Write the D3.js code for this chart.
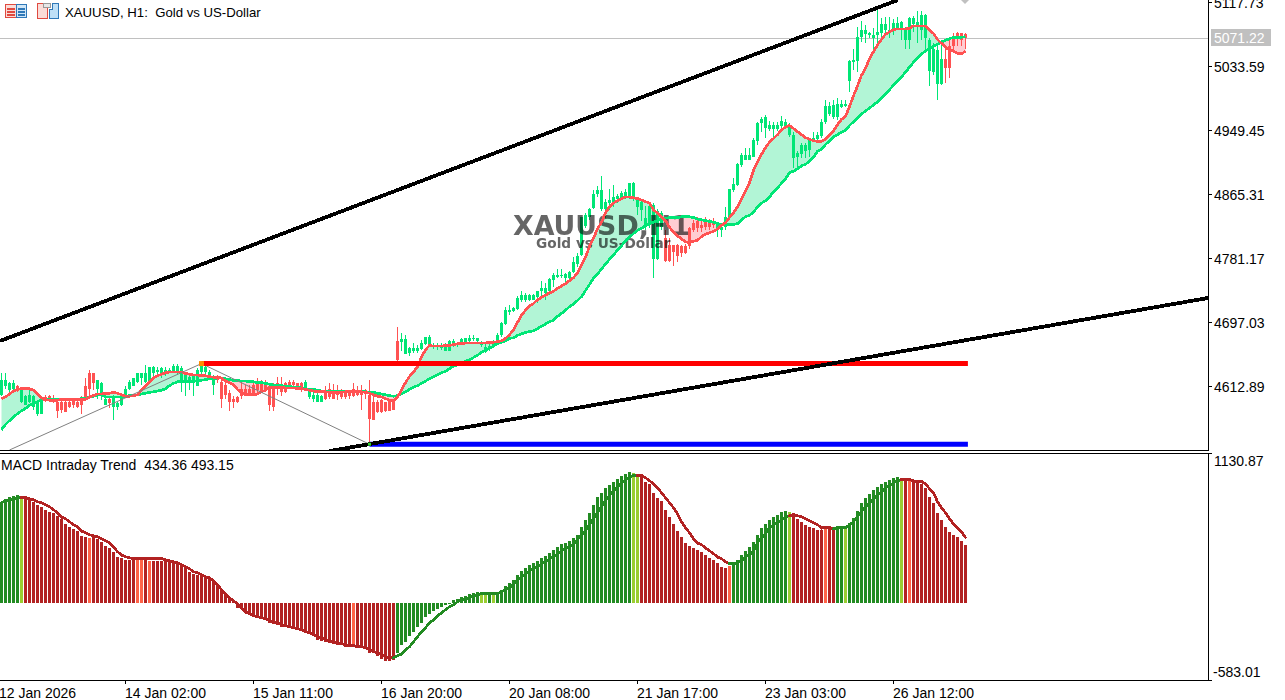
<!DOCTYPE html>
<html>
<head>
<meta charset="utf-8">
<title>XAUUSD H1</title>
<script src="https://cdn.jsdelivr.net/npm/d3@7/dist/d3.min.js"></script>
<style>
html,body{margin:0;padding:0;background:#fff;overflow:hidden}
svg{display:block}
text{font-family:"Liberation Sans",Arial,sans-serif;font-size:14px;fill:#000}
</style>
</head>
<body>
<svg id="c" width="1285" height="700"></svg>
<script>
// ---------- price panel data ----------
const symbolTitle = "XAUUSD, H1:  Gold vs US-Dollar";
const watermarkMain = "XAUUSD,H1";
const watermarkSub = "Gold vs US-Dollar";
const lastPrice = 5071.22;
const priceTicks = [5117.73,5033.59,4949.45,4865.31,4781.17,4697.03,4612.89];
const timeLabels = ["12 Jan 2026","14 Jan 02:00","15 Jan 11:00","16 Jan 20:00","20 Jan 08:00","21 Jan 17:00","23 Jan 03:00","26 Jan 12:00"];
const timeLabelBars = [-1,31,63,95,127,159,191,223];

const open = [
4602,4614,4608,4610,4613,4593,4589,4593,4586,4577,
4577,4599,4600,4596,4593,4592,4593,4593,4594,4593,
4597,4613,4631,4630,4610,4602,4589,4597,4586,4586,
4589,4602,4609,4614,4619,4624,4619,4619,4631,4632,
4629,4629,4632,4632,4632,4617,4617,4618,4617,4614,
4632,4632,4624,4615,4627,4619,4615,4604,4597,4599,
4610,4610,4610,4615,4617,4617,4617,4613,4613,4617,
4615,4617,4619,4619,4617,4617,4610,4599,4596,4593,
4593,4607,4610,4608,4608,4608,4607,4606,4610,4608,
4608,4608,4602,4593,4593,4595,4592,4595,4596,4673,
4672,4656,4657,4659,4659,4662,4669,4667,4665,4665,
4664,4660,4660,4667,4667,4670,4671,4673,4675,4673,
4667,4659,4662,4667,4672,4681,4695,4711,4712,4715,
4727,4726,4727,4727,4730,4738,4736,4738,4753,4757,
4759,4755,4755,4764,4774,4786,4824,4836,4847,4866,
4846,4846,4854,4856,4860,4860,4862,4862,4859,4849,
4845,4822,4825,4780,4781,4823,4808,4799,4799,4799,
4797,4798,4821,4828,4830,4825,4830,4830,4831,4821,
4819,4822,4836,4871,4878,4904,4911,4911,4915,4935,
4959,4953,4952,4952,4951,4955,4955,4944,4913,4914,
4919,4922,4924,4937,4938,4942,4960,4971,4967,4967,
4980,4981,5014,5040,5041,5072,5076,5075,5071,5075,
5078,5082,5079,5082,5082,5084,5068,5068,5089,5086,
5082,5071,5028,5027,5011,5011,5044,5060,5074,5077,
5077,5076];
const high = [
4630,4630,4619,4621,4615,4612,4602,4608,4602,4595,
4597,4602,4602,4602,4597,4595,4595,4596,4596,4597,
4600,4624,4635,4631,4621,4619,4602,4600,4602,4593,
4604,4613,4621,4624,4631,4631,4641,4639,4640,4639,
4638,4639,4637,4642,4642,4640,4630,4628,4628,4637,
4643,4641,4635,4628,4628,4624,4622,4608,4600,4600,
4619,4615,4615,4619,4624,4621,4621,4617,4617,4626,
4626,4619,4621,4622,4618,4619,4621,4610,4608,4608,
4602,4613,4617,4616,4615,4609,4608,4608,4617,4613,
4615,4610,4621,4602,4595,4597,4593,4597,4597,4691,
4683,4681,4665,4670,4667,4674,4678,4680,4670,4670,
4670,4670,4674,4675,4672,4676,4677,4680,4681,4677,
4673,4672,4670,4674,4683,4698,4718,4720,4718,4732,
4738,4736,4735,4734,4739,4751,4749,4755,4762,4767,
4767,4762,4765,4783,4788,4836,4841,4848,4871,4876,
4890,4859,4872,4878,4866,4870,4872,4881,4882,4860,
4859,4850,4854,4854,4846,4843,4819,4808,4799,4800,
4799,4800,4823,4832,4836,4832,4836,4833,4834,4825,
4827,4849,4873,4887,4907,4920,4926,4926,4940,4960,
4967,4970,4962,4960,4960,4968,4964,4959,4947,4923,
4933,4933,4938,4948,4948,4965,4989,4987,4989,4992,
4990,4990,5042,5057,5086,5094,5088,5079,5084,5113,
5097,5099,5099,5096,5099,5094,5086,5098,5100,5106,
5107,5103,5071,5064,5062,5064,5057,5072,5077,5079,
5078,5078];
const low = [
4600,4610,4606,4606,4606,4591,4589,4591,4582,4574,
4577,4593,4593,4591,4572,4578,4580,4584,4584,4584,
4577,4596,4600,4608,4597,4595,4589,4584,4569,4582,
4587,4600,4608,4613,4618,4615,4618,4619,4627,4628,
4624,4627,4630,4630,4628,4606,4600,4608,4600,4613,
4628,4626,4621,4602,4617,4584,4597,4581,4584,4591,
4596,4600,4602,4600,4602,4605,4606,4581,4581,4602,
4600,4604,4613,4610,4609,4606,4608,4596,4593,4592,
4592,4595,4596,4596,4595,4596,4597,4597,4599,4600,
4582,4597,4538,4569,4578,4578,4580,4581,4582,4647,
4659,4656,4653,4657,4657,4661,4667,4666,4662,4661,
4661,4659,4659,4665,4665,4667,4669,4670,4673,4670,
4665,4657,4660,4663,4670,4678,4694,4707,4711,4713,
4724,4724,4725,4726,4722,4729,4727,4733,4744,4755,
4755,4749,4753,4762,4770,4784,4821,4832,4846,4862,
4844,4834,4845,4849,4854,4858,4859,4860,4857,4838,
4830,4819,4821,4756,4779,4819,4776,4776,4771,4776,
4783,4787,4794,4816,4816,4816,4819,4819,4821,4810,
4809,4819,4834,4869,4876,4902,4910,4910,4914,4930,
4948,4939,4949,4939,4949,4950,4954,4941,4900,4902,
4913,4913,4915,4936,4936,4940,4958,4968,4964,4963,
4979,4980,5000,5029,5027,5066,5064,5071,5051,5060,
5073,5077,5071,5075,5082,5069,5056,5057,5079,5065,
5068,5055,5008,5022,4990,5009,5012,5018,5053,5060,
5061,5056];
const close = [
4621,4621,4617,4618,4608,4610,4600,4602,4600,4593,
4595,4595,4594,4592,4581,4582,4580,4586,4589,4586,
4588,4597,4610,4617,4621,4617,4597,4591,4600,4591,
4600,4610,4619,4624,4630,4630,4631,4638,4638,4635,
4637,4634,4635,4640,4640,4637,4628,4626,4627,4635,
4640,4639,4632,4625,4621,4597,4602,4592,4592,4593,
4600,4600,4604,4602,4608,4606,4608,4589,4586,4610,
4606,4606,4615,4615,4613,4608,4619,4609,4602,4602,
4600,4596,4599,4597,4602,4599,4599,4600,4600,4602,
4602,4605,4570,4569,4580,4580,4581,4581,4582,4648,
4675,4675,4663,4664,4664,4670,4678,4678,4667,4667,
4667,4666,4673,4673,4670,4675,4676,4676,4677,4676,
4672,4665,4666,4673,4681,4696,4714,4714,4716,4729,
4733,4733,4733,4733,4738,4742,4742,4754,4759,4759,
4760,4761,4764,4776,4785,4836,4838,4846,4866,4871,
4871,4856,4858,4862,4863,4867,4869,4880,4881,4860,
4856,4834,4850,4851,4843,4841,4778,4778,4790,4784,
4789,4789,4797,4819,4821,4821,4823,4822,4825,4825,
4823,4836,4873,4879,4906,4917,4917,4917,4937,4959,
4964,4967,4957,4957,4957,4962,4961,4955,4944,4920,
4931,4931,4937,4939,4943,4961,4982,4982,4983,4984,
4984,4984,5041,5042,5072,5082,5082,5078,5075,5079,
5090,5090,5082,5091,5091,5092,5084,5097,5097,5092,
5101,5101,5069,5056,5055,5044,5032,5032,5060,5071,
5068,5071.22];
const maFast = [
4597,4599,4603,4607,4609,4610,4610,4610,4608,4603,
4598,4595,4595,4594,4595,4596,4596,4596,4596,4596,
4596,4596,4599,4601,4603,4603,4604,4604,4605,4604,
4602,4600,4600,4601,4602,4608,4613,4619,4624,4627,
4629,4631,4632,4632,4632,4632,4630,4629,4628,4628,
4627,4627,4626,4625,4625,4624,4620,4618,4615,4609,
4605,4603,4602,4602,4603,4606,4608,4612,4612,4612,
4612,4611,4611,4611,4610,4610,4609,4608,4607,4606,
4606,4606,4605,4605,4605,4605,4606,4606,4606,4606,
4606,4605,4604,4602,4600,4599,4597,4595,4594,4599,
4608,4618,4626,4632,4639,4652,4661,4667,4666,4666,
4666,4667,4667,4668,4669,4669,4670,4670,4670,4670,
4670,4670,4671,4671,4672,4673,4676,4681,4687,4697,
4707,4713,4719,4722,4727,4730,4733,4736,4738,4742,
4745,4748,4752,4756,4762,4773,4783,4797,4808,4820,
4829,4841,4849,4854,4857,4860,4862,4862,4861,4860,
4858,4856,4854,4845,4841,4836,4831,4822,4816,4811,
4807,4803,4802,4804,4805,4810,4813,4815,4817,4820,
4825,4828,4835,4841,4849,4859,4870,4881,4897,4908,
4918,4927,4934,4939,4944,4950,4954,4956,4952,4948,
4944,4940,4938,4936,4935,4935,4938,4943,4949,4957,
4964,4968,4981,4995,5008,5022,5031,5044,5053,5062,
5069,5076,5079,5082,5083,5083,5083,5084,5087,5087,
5087,5087,5081,5077,5069,5064,5059,5055,5054,5051,
5050,5054];
const maSlow = [
4556,4563,4568,4573,4577,4581,4584,4588,4591,4593,
4595,4595,4596,4596,4596,4596,4596,4596,4596,4596,
4597,4597,4599,4600,4602,4602,4599,4599,4599,4599,
4599,4600,4601,4601,4602,4603,4604,4605,4606,4607,
4608,4610,4614,4617,4619,4619,4619,4619,4620,4620,
4621,4622,4623,4623,4624,4624,4623,4622,4621,4621,
4620,4620,4619,4619,4618,4618,4617,4616,4615,4614,
4614,4613,4613,4612,4612,4611,4610,4609,4609,4608,
4607,4607,4607,4607,4607,4607,4607,4607,4607,4607,
4607,4606,4605,4605,4604,4603,4602,4601,4600,4601,
4603,4606,4609,4612,4614,4617,4620,4623,4626,4628,
4631,4633,4636,4640,4641,4644,4646,4648,4651,4654,
4658,4660,4663,4666,4669,4671,4673,4676,4677,4680,
4682,4684,4685,4686,4689,4692,4695,4698,4700,4705,
4709,4713,4718,4721,4726,4731,4739,4747,4755,4761,
4767,4774,4780,4786,4792,4798,4804,4809,4814,4818,
4821,4824,4827,4829,4831,4833,4834,4835,4835,4835,
4836,4836,4836,4835,4833,4832,4831,4830,4829,4827,
4826,4826,4826,4826,4827,4832,4836,4838,4842,4849,
4854,4857,4862,4869,4874,4880,4886,4894,4896,4899,
4903,4905,4909,4914,4922,4925,4931,4936,4941,4944,
4947,4950,4956,4961,4966,4971,4975,4979,4983,4987,
4992,4997,5003,5009,5014,5020,5026,5033,5039,5045,
5050,5054,5057,5060,5063,5066,5068,5070,5072,5072,
5072,5073];

// drawn objects, as [bar index, price]
const upperTrend = [[-0.375,4672.7],[224.1,5121]];
const lowerTrend = [[82,4528],[301.6,4729.2]];
const zigzag = [[2,4529.4],[50,4643],[92,4537]];
const redLevel = [[50,4643],[241.6,4643]];
const blueLevel = [[92,4537],[241.6,4537]];

// ---------- MACD panel data ----------
const macdTitle = "MACD Intraday Trend";
const macdTicks = [1130.87,-583.01];
const macdHist = [
763,785,800,808,815,785,785,785,763,740,
725,702,687,680,657,634,596,574,559,544,
506,498,491,498,483,461,430,415,385,347,
340,325,325,325,325,325,325,317,317,317,
317,317,310,310,302,287,272,234,219,211,
211,204,181,159,136,98,76,38,11,-38,
-45,-76,-91,-106,-106,-106,-113,-151,-159,-166,
-181,-181,-189,-196,-204,-211,-219,-227,-249,-279,
-287,-294,-302,-310,-317,-317,-332,-332,-325,-332,
-340,-347,-378,-378,-400,-423,-438,-438,-430,-378,
-317,-294,-249,-219,-181,-151,-106,-83,-60,-45,
-30,-19,-4,23,30,45,53,68,76,83,
68,60,68,68,76,98,128,151,174,211,
242,264,287,302,317,340,355,378,400,423,
445,453,468,491,513,574,627,680,740,800,
831,868,891,914,936,959,974,989,982,974,
951,914,898,831,793,770,702,649,596,544,
498,453,430,415,400,385,362,340,325,302,
272,264,279,294,325,362,393,423,461,513,
566,596,627,649,664,687,695,687,664,634,
612,589,574,566,551,551,559,559,559,559,
566,559,604,642,695,755,793,823,853,876,
898,914,929,944,951,944,929,929,914,914,
898,868,800,755,680,627,574,536,513,498,
468,434.36];
const macdSignal = [
755,770,778,785,793,793,793,785,778,763,
755,740,725,702,680,649,634,612,589,574,
544,529,513,506,498,483,468,453,423,385,
362,347,340,332,332,332,332,332,332,332,
332,325,317,310,302,287,272,257,234,227,
211,196,189,166,136,98,68,38,15,-8,
-38,-68,-83,-98,-106,-113,-121,-136,-143,-151,
-166,-174,-181,-189,-196,-204,-219,-227,-242,-257,
-264,-279,-287,-294,-302,-310,-317,-325,-325,-332,
-332,-340,-355,-370,-378,-393,-408,-415,-415,-400,
-385,-355,-332,-294,-257,-219,-189,-151,-128,-98,
-76,-53,-30,-15,8,23,30,38,53,60,
68,68,68,68,68,83,98,113,143,174,
196,219,242,257,272,294,310,332,347,370,
393,408,423,445,476,513,544,589,634,680,
725,770,808,846,876,906,929,951,959,959,
959,944,921,898,868,831,793,755,717,672,
612,566,529,483,453,438,415,393,370,347,
332,310,294,294,302,317,347,362,393,453,
491,521,566,589,604,627,649,657,664,657,
649,634,619,604,589,566,566,566,559,566,
566,566,589,612,649,687,725,755,785,815,
838,868,883,906,921,929,929,929,921,914,
914,898,861,831,763,717,680,634,596,566,
536,493.15];
// MACD state runs: [state, number of bars]; U rising, u rising-weak, D falling, d falling-weak
const macdStateRuns = [["U",5],["u",1],["D",16],["d",1],["D",11],["d",2],["D",1],["d",1],["D",50],["d",1],["D",10],
["U",21],["u",2],["U",1],["u",1],["U",34],["u",2],["D",22],["d",1],["U",14],["u",1],["D",8],["d",1],["D",2],
["U",2],["u",1],["U",13],["u",1],["D",1],["d",1],["D",14]];

// ---------- styles ----------
const BULL="#00E676", BEAR="#FF5252", FILL_UP="#B2F5D6", FILL_DN="#FFCDD2";
const STATE_COLORS={U:"#228B22",u:"#9ACD32",D:"#B22222",d:"#FF6347"};
const AXIS_X=1208;

const macdStates = macdStateRuns.flatMap(([s,n])=>d3.range(n).map(()=>s));

const svg=d3.select("#c");
svg.append("rect").attr("width",1285).attr("height",700).attr("fill","#fff");
const defs=svg.append("defs");
defs.append("clipPath").attr("id","clipMain").append("rect").attr("x",0).attr("y",0).attr("width",AXIS_X).attr("height",450);
defs.append("clipPath").attr("id","clipMacd").append("rect").attr("x",0).attr("y",453).attr("width",AXIS_X).attr("height",227);

const x=d3.scaleLinear().domain([0,1]).range([1.5,5.5]);
const y=d3.scaleLinear().domain([4529.4,5121]).range([450,0]);
const ym=d3.scaleLinear().domain([-583.01,1130.87]).range([680,453]);
const bars=d3.range(close.length);

// ---------- main panel ----------
const main=svg.append("g").attr("clip-path","url(#clipMain)");
main.append("line").attr("x1",0).attr("x2",AXIS_X).attr("y1",Math.round(y(lastPrice))+.5).attr("y2",Math.round(y(lastPrice))+.5)
  .attr("stroke","#c0c0c0").attr("stroke-width",1);

// fill between moving averages, one path per same-sign run
const area=d3.area().x(i=>x(i)).y0(i=>y(maFast[i])).y1(i=>y(maSlow[i]));
let runStart=0;
for(let i=1;i<=bars.length;i++){
  const s=i<bars.length?maFast[i]>=maSlow[i]:null;
  if(i===bars.length||s!==(maFast[runStart]>=maSlow[runStart])){
    const end=Math.min(i,bars.length-1);
    main.append("path").attr("d",area(d3.range(runStart,end+1)))
      .attr("fill",maFast[runStart]>=maSlow[runStart]?FILL_UP:FILL_DN);
    runStart=i;
  }
}

// candles
const cg=main.append("g").attr("shape-rendering","crispEdges");
cg.selectAll("rect.w").data(bars).join("rect").attr("class","w")
  .attr("x",i=>x(i)-.5).attr("width",1)
  .attr("y",i=>y(high[i])).attr("height",i=>Math.max(1,y(low[i])-y(high[i])))
  .attr("fill",i=>close[i]>=open[i]?BULL:BEAR);
cg.selectAll("rect.b").data(bars).join("rect").attr("class","b")
  .attr("x",i=>x(i)-1.5).attr("width",3)
  .attr("y",i=>y(Math.max(open[i],close[i]))).attr("height",i=>Math.max(1,Math.abs(y(open[i])-y(close[i]))))
  .attr("fill",i=>close[i]>=open[i]?BULL:BEAR);

// watermark
const wm=main.append("g").style("mix-blend-mode","multiply");
wm.append("text").attr("x",513).attr("y",235).text(watermarkMain)
  .style("font-family",'"DejaVu Sans",sans-serif').style("font-size","26.8px").style("font-weight","700").style("fill","#666");
wm.append("text").attr("x",536).attr("y",248).text(watermarkSub)
  .style("font-family",'"DejaVu Sans",sans-serif').style("font-size","13.7px").style("font-weight","700").style("fill","#666");

// moving averages
const lineOf=a=>d3.line().x(i=>x(i)).y(i=>y(a[i]))(bars);
main.append("path").attr("d",lineOf(maSlow)).attr("fill","none").attr("stroke",BULL).attr("stroke-width",2.7).attr("shape-rendering","crispEdges");
main.append("path").attr("d",lineOf(maFast)).attr("fill","none").attr("stroke",BEAR).attr("stroke-width",2.7).attr("shape-rendering","crispEdges");

// drawn objects
const objLine=d3.line().x(d=>x(d[0])).y(d=>y(d[1]));
main.append("path").attr("d",objLine(zigzag)).attr("fill","none").attr("stroke","#808080").attr("stroke-width",1);
main.append("path").attr("d",objLine(redLevel)).attr("fill","none").attr("stroke","#FF0000").attr("stroke-width",5);
main.append("path").attr("d",objLine(blueLevel)).attr("fill","none").attr("stroke","#0000FF").attr("stroke-width",5);
main.append("path").attr("d",objLine(upperTrend)).attr("fill","none").attr("stroke","#000").attr("stroke-width",3.8).attr("shape-rendering","crispEdges");
main.append("path").attr("d",objLine(lowerTrend)).attr("fill","none").attr("stroke","#000").attr("stroke-width",3.8).attr("shape-rendering","crispEdges");
main.append("rect").attr("x",x(zigzag[1][0])-2.5).attr("y",y(zigzag[1][1])-2.5).attr("width",5).attr("height",5).attr("fill","#FF8C00");
main.append("rect").attr("x",x(zigzag[2][0])-1.5).attr("y",y(zigzag[2][1])-1.5).attr("width",3).attr("height",3).attr("fill","#32CD32");
main.append("path").attr("d",d3.line()([[961,0],[969,0],[965,4]])+"Z").attr("fill","#c0c0c0");

// ---------- MACD panel ----------
const mg=svg.append("g").attr("clip-path","url(#clipMacd)");
const hg=mg.append("g").attr("shape-rendering","crispEdges");
hg.selectAll("rect").data(bars).join("rect")
  .attr("x",i=>x(i)-1.5).attr("width",3)
  .attr("y",i=>Math.min(ym(0),ym(macdHist[i])))
  .attr("height",i=>Math.max(1,Math.abs(ym(macdHist[i])-ym(0))))
  .attr("fill",i=>STATE_COLORS[macdStates[i]]);
const sigLine=d3.line().x(i=>x(i)).y(i=>ym(macdSignal[i]));
bars.slice(1).forEach(i=>{
  const up=macdStates[i]==="U"||macdStates[i]==="u";
  mg.append("path").attr("d",sigLine([i-1,i])).attr("fill","none")
    .attr("stroke",up?STATE_COLORS.U:STATE_COLORS.D).attr("stroke-width",2.7).attr("stroke-linecap","square").attr("shape-rendering","crispEdges");
});

// ---------- frame and axes ----------
const frame=svg.append("g").attr("shape-rendering","crispEdges").attr("stroke","#000").attr("stroke-width",1);
frame.append("line").attr("x1",0).attr("x2",AXIS_X).attr("y1",450.5).attr("y2",450.5);
frame.append("line").attr("x1",0).attr("x2",AXIS_X+4).attr("y1",453.5).attr("y2",453.5);
frame.append("line").attr("x1",0).attr("x2",AXIS_X+4).attr("y1",680.5).attr("y2",680.5);
frame.append("line").attr("x1",AXIS_X+.5).attr("x2",AXIS_X+.5).attr("y1",0).attr("y2",451);
frame.append("line").attr("x1",AXIS_X+.5).attr("x2",AXIS_X+.5).attr("y1",453).attr("y2",681);

// price axis
priceTicks.forEach(v=>{
  const py=Math.round(y(v))+.5;
  frame.append("line").attr("x1",AXIS_X).attr("x2",AXIS_X+4).attr("y1",py).attr("y2",py);
  svg.append("text").attr("x",1214).attr("y",py+5).text(v.toFixed(2));
});
svg.append("rect").attr("x",1211).attr("y",29).attr("width",60).attr("height",17).attr("fill","#c0c0c0");
svg.append("text").attr("x",1214).attr("y",43).text(lastPrice.toFixed(2)).style("fill","#fff");

// MACD axis (labels stay inside the panel)
svg.append("text").attr("x",1214).attr("y",ym(macdTicks[0])+13).text(macdTicks[0].toFixed(2));
svg.append("text").attr("x",1213).attr("y",ym(macdTicks[1])-3).text(macdTicks[1].toFixed(2));

// time axis
timeLabels.forEach((t,k)=>{
  const px=Math.round(x(timeLabelBars[k])-.5)+.5;
  if(k>0) frame.append("line").attr("x1",px).attr("x2",px).attr("y1",680).attr("y2",684);
  svg.append("text").attr("x",k===0?-1:px-.5).attr("y",698).text(t);
});

// titles
svg.append("text").attr("x",65).attr("y",17).text(symbolTitle).style("font-size","13.2px").style("white-space","pre").attr("xml:space","preserve");
svg.append("text").attr("x",1).attr("y",470).text(macdTitle+"  "+macdHist[macdHist.length-1].toFixed(2)+" "+macdSignal[macdSignal.length-1].toFixed(2))
  .style("white-space","pre").attr("xml:space","preserve");

// toolbar icons
const ic=svg.append("g").attr("shape-rendering","crispEdges");
ic.append("rect").attr("x",5.5).attr("y",4.5).attr("width",11).attr("height",13).attr("fill","#fbdcd8").attr("stroke","#e04a40");
ic.append("rect").attr("x",16.5).attr("y",4.5).attr("width",10).attr("height",13).attr("fill","#cfe6f7").attr("stroke","#2f78b8");
[8,11,14].forEach(v=>{
  ic.append("rect").attr("x",7).attr("y",v).attr("width",8).attr("height",1.5).attr("fill","#e04a40");
  ic.append("rect").attr("x",18).attr("y",v).attr("width",7).attr("height",1.5).attr("fill","#2f78b8");
});
ic.append("path").attr("d","M37.5 3.5H43.5L47.5 9V18.5H37.5Z").attr("fill","#fbdcd8").attr("stroke","#e04a40");
ic.append("path").attr("d","M49.5 9.5H52.5V3.5H58.5V18.5H49.5Z").attr("fill","#bfe0f7").attr("stroke","#2f78b8");
ic.append("rect").attr("x",43.5).attr("y",3.5).attr("width",7).attr("height",4).attr("fill","#e8e8e8").attr("stroke","#999");
</script>
</body>
</html>
